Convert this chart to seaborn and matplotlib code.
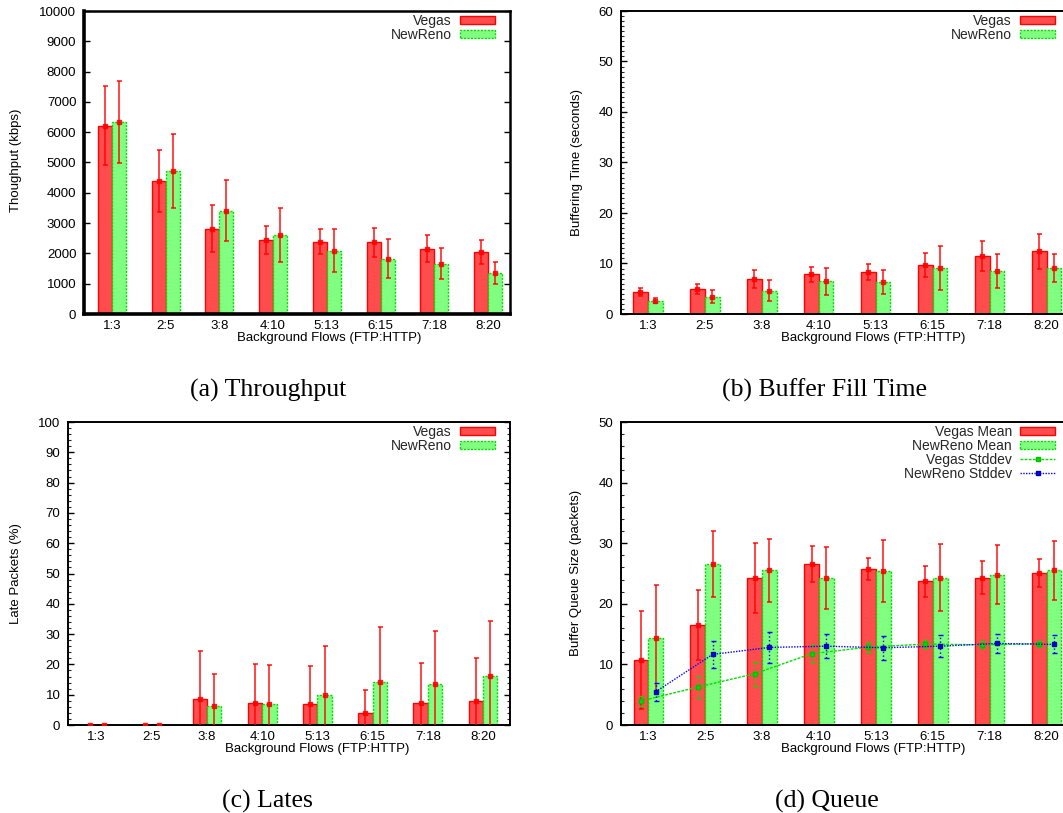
import numpy as np
import pandas as pd
import matplotlib
matplotlib.use("Agg")
import matplotlib.pyplot as plt
import seaborn as sns
from matplotlib.patches import Patch
from matplotlib.lines import Line2D
from matplotlib.ticker import MultipleLocator

# ---------------- data ----------------
flows = ["1:3", "2:5", "3:8", "4:10", "5:13", "6:15", "7:18", "8:20"]
series = ["Vegas", "NewReno"]

thr_vegas = [6210, 4400, 2820, 2450, 2390, 2360, 2160, 2040]
thr_vegas_err = [1300, 1020, 770, 460, 410, 470, 440, 390]
thr_newreno = [6330, 4720, 3410, 2600, 2090, 1830, 1660, 1350]
thr_newreno_err = [1350, 1220, 1010, 890, 715, 645, 520, 375]

buf_vegas = [4.28, 4.87, 6.92, 7.90, 8.30, 9.68, 11.46, 12.38]
buf_vegas_err = [0.8, 1.0, 1.8, 1.5, 1.6, 2.4, 3.0, 3.4]
buf_newreno = [2.63, 3.43, 4.61, 6.46, 6.32, 9.16, 8.50, 9.16]
buf_newreno_err = [0.5, 1.3, 2.05, 2.6, 2.3, 4.4, 3.4, 2.8]

late_vegas = [0, 0, 8.46, 7.14, 6.81, 4.07, 7.25, 7.80]
late_vegas_err = [0, 0, 16.0, 13.1, 12.5, 7.6, 13.3, 14.2]
late_newreno = [0, 0, 6.37, 6.92, 9.78, 14.2, 13.5, 16.3]
late_newreno_err = [0, 0, 10.3, 12.9, 16.2, 18.2, 17.6, 18.0]

q_vegas = [10.7, 16.5, 24.2, 26.6, 25.7, 23.7, 24.3, 25.1]
q_vegas_err = [8.1, 5.8, 5.8, 2.95, 1.8, 2.6, 2.7, 2.25]
q_newreno = [14.3, 26.6, 25.5, 24.3, 25.4, 24.3, 24.8, 25.5]
q_newreno_err = [8.8, 5.45, 5.25, 5.15, 5.1, 5.5, 4.85, 4.85]

q_vegas_sd = [3.96, 6.26, 8.46, 11.76, 12.86, 13.35, 13.24, 13.40]
q_vegas_sd_err = [0.8, 1.8, 2.0, 1.4, 0.8, 0.6, 0.6, 0.5]
q_newreno_sd = [5.49, 11.65, 12.8, 13.0, 12.75, 13.0, 13.46, 13.3]
q_newreno_sd_err = [1.5, 2.2, 2.5, 2.0, 2.0, 1.8, 1.6, 1.5]

# ---------------- style ----------------
sns.set_theme(style="white")
plt.rcParams["font.family"] = ["Liberation Sans", "DejaVu Sans"]

RED_FILL = "#ff4c4c"
RED_EDGE = "#ff0000"
GREEN_FILL = "#80ff80"
GREEN_EDGE = "#00dd00"
BLUE = "#0000ff"

W, H = 1063, 813
fig = plt.figure(figsize=(W / 100, H / 100), dpi=100)
fig.patch.set_facecolor("white")


def px_axes(x0, y0, x1, y1):
    return fig.add_axes([x0 / W, 1 - y1 / H, (x1 - x0) / W, (y1 - y0) / H])


def bar_panel(ax, v, ve, n, ne, ylim, major, minor, xlim, thick=False):
    df = pd.DataFrame({
        "flows": flows * 2,
        "proto": [series[0]] * len(flows) + [series[1]] * len(flows),
        "value": list(v) + list(n),
    })
    sns.barplot(data=df, x="flows", y="value", hue="proto", order=flows,
                hue_order=series, palette={series[0]: RED_FILL, series[1]: GREEN_FILL},
                width=0.52, errorbar=None, legend=False, saturation=1,
                linewidth=1.0, ax=ax, zorder=2)
    centers = []
    for cont, errs, vals, edge, ls in [(ax.containers[0], ve, v, RED_EDGE, "-"),
                                       (ax.containers[1], ne, n, GREEN_EDGE, (0, (1.5, 1)))]:
        xs = []
        for p in cont:
            p.set_edgecolor(edge)
            p.set_linestyle(ls)
            p.set_linewidth(1.0)
            xs.append(p.get_x() + p.get_width() / 2)
        ax.errorbar(xs, vals, yerr=errs, fmt="s", ms=2.3, color=RED_EDGE,
                    ecolor=RED_EDGE, elinewidth=1.2, capsize=1.8, capthick=1.2,
                    alpha=0.85, zorder=3)
        centers.append(xs)
    ax.set_xlim(*xlim)
    ax.set_ylim(*ylim)
    ax.yaxis.set_major_locator(MultipleLocator(major))
    if minor:
        ax.yaxis.set_minor_locator(MultipleLocator(minor))
    ax.tick_params(axis="y", which="major", direction="in", length=4.5, width=1.0,
                   left=True, right=True, labelsize=9.5, pad=5.5, colors="black")
    ax.tick_params(axis="y", which="minor", direction="in", length=2.2, width=0.8,
                   left=True, right=True)
    ax.tick_params(axis="x", length=0, labelsize=9.5, pad=4, colors="black")
    ax.set_xlabel("")
    ax.set_ylabel("")
    for side, sp in ax.spines.items():
        sp.set_visible(True)
        sp.set_color("black")
        sp.set_linewidth(1.4)
    if thick:
        ax.spines["left"].set_linewidth(2.6)
        ax.spines["bottom"].set_linewidth(2.6)
        ax.spines["top"].set_linewidth(1.8)
        ax.spines["right"].set_linewidth(1.8)
    return centers


def add_legend(ax, handles, labels, xr, ytop):
    ax.legend(handles, labels, loc="upper right",
              bbox_to_anchor=(xr / W, 1 - ytop / H), bbox_transform=fig.transFigure,
              frameon=False, markerfirst=False, fontsize=10, borderpad=0,
              borderaxespad=0, labelspacing=0.0, handlelength=2.5,
              handleheight=0.55, handletextpad=0.6, numpoints=1)


red_patch = Patch(facecolor=RED_FILL, edgecolor=RED_EDGE, linewidth=1.0)
green_patch = Patch(facecolor=GREEN_FILL, edgecolor=GREEN_EDGE, linewidth=1.0,
                    linestyle=(0, (1.5, 1)))

# (a) Throughput
ax_a = px_axes(84, 11, 510, 314)
bar_panel(ax_a, thr_vegas, thr_vegas_err, thr_newreno, thr_newreno_err,
          (0, 10000), 1000, None, (-0.52, 7.41), thick=True)
add_legend(ax_a, [red_patch, green_patch], series, 495, 14)

# (b) Buffer fill time
ax_b = px_axes(621, 11, 1075, 314)
bar_panel(ax_b, buf_vegas, buf_vegas_err, buf_newreno, buf_newreno_err,
          (0, 60), 10, 1, (-0.47, 7.5))
add_legend(ax_b, [red_patch, green_patch], series, 1055, 14)

# (c) Lates
ax_c = px_axes(68, 422, 510, 725)
bar_panel(ax_c, late_vegas, late_vegas_err, late_newreno, late_newreno_err,
          (0, 100), 10, 2, (-0.52, 7.49))
add_legend(ax_c, [red_patch, green_patch], series, 495, 425)

# (d) Queue
ax_d = px_axes(621, 422, 1075, 725)
cx = bar_panel(ax_d, q_vegas, q_vegas_err, q_newreno, q_newreno_err,
               (0, 50), 10, 2, (-0.48, 7.5))
eb_v = ax_d.errorbar(cx[0], q_vegas_sd, yerr=q_vegas_sd_err, color="#00e000",
                     ls=(0, (2, 1)), lw=1.0, marker="s", ms=3.5, mfc="#00e000",
                     mec="#00c000", capsize=1.8, elinewidth=1.0, zorder=4)
eb_v[2][0].set_linestyle(":")
eb_n = ax_d.errorbar(cx[1], q_newreno_sd, yerr=q_newreno_sd_err, color=BLUE,
                     ls=(0, (1, 1)), lw=1.0, marker="s", ms=3.5, mfc=BLUE,
                     mec="#0000aa", capsize=1.8, elinewidth=1.0, zorder=5)
eb_n[2][0].set_linestyle(":")
h_vsd = Line2D([], [], color="#00e000", ls=(0, (2, 1)), lw=1.0, marker="s", ms=3,
               mfc="#00e000", mec="#00c000")
h_nsd = Line2D([], [], color=BLUE, ls=(0, (1, 1)), lw=1.0, marker="s", ms=3,
               mfc=BLUE, mec="#0000aa")
add_legend(ax_d, [red_patch, green_patch, h_vsd, h_nsd],
           ["Vegas Mean", "NewReno Mean", "Vegas Stddev", "NewReno Stddev"], 1055, 425)

# ---------------- labels ----------------
def ftext(x, y, s, **kw):
    fig.text(x / W, 1 - y / H, s, ha="center", va="center", color="black", **kw)

ftext(16, 160, "Thoughput (kbps)", rotation=90, fontsize=9.5)
ftext(577, 163, "Buffering Time (seconds)", rotation=90, fontsize=9.5)
ftext(16, 574, "Late Packets (%)", rotation=90, fontsize=9.5)
ftext(576, 573, "Buffer Queue Size (packets)", rotation=90, fontsize=9.5)

for x, y in [(329, 338), (873, 338), (317, 749), (873, 749)]:
    ftext(x, y, "Background Flows (FTP:HTTP)", fontsize=9.5)

serif = ["Liberation Serif", "DejaVu Serif"]
ftext(268, 390, "(a) Throughput", fontsize=18.5, family=serif)
ftext(825, 390, "(b) Buffer Fill Time", fontsize=18.5, family=serif)
ftext(267, 801, "(c) Lates", fontsize=18.5, family=serif)
ftext(827, 801, "(d) Queue", fontsize=18.5, family=serif)

fig.savefig("out.png", dpi=100, facecolor="white")
